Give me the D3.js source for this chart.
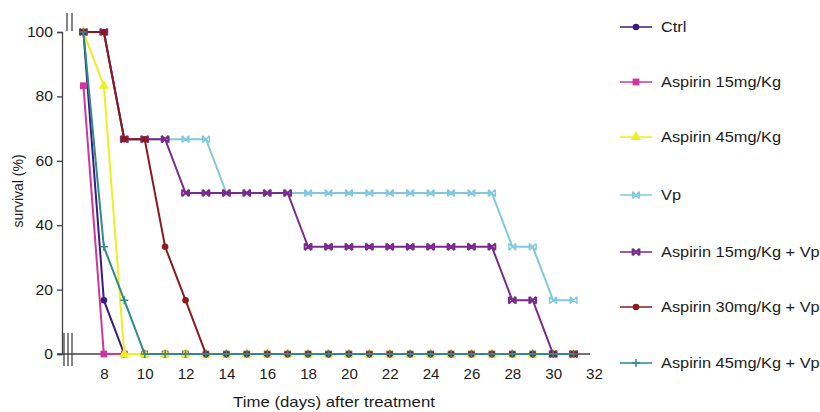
<!DOCTYPE html>
<html>
<head>
<meta charset="utf-8">
<script src="https://cdn.jsdelivr.net/npm/d3@7"></script>
<style>
  body { margin: 0; background: #fff; }
  svg text { font-family: "Liberation Sans", Arial, sans-serif; fill: #1c1c1c; }
</style>
</head>
<body>
<svg id="chart"></svg>
<script>
// data (survival %, one value per day from day 7 to 31)
const days = [7,8,9,10,11,12,13,14,15,16,17,18,19,20,21,22,23,24,25,26,27,28,29,30,31];
const ctrl     = [100,16.7,0,0,0,0,0,0,0,0,0,0,0,0,0,0,0,0,0,0,0,0,0,0,0];
const asp15    = [83.3,0,0,0,0,0,0,0,0,0,0,0,0,0,0,0,0,0,0,0,0,0,0,0,0];
const asp45    = [100,83.3,0,0,0,0,0,0,0,0,0,0,0,0,0,0,0,0,0,0,0,0,0,0,0];
const vp       = [100,100,66.7,66.7,66.7,66.7,66.7,50,50,50,50,50,50,50,50,50,50,50,50,50,50,33.3,33.3,16.7,16.7];
const asp15vp  = [100,100,66.7,66.7,66.7,50,50,50,50,50,50,33.3,33.3,33.3,33.3,33.3,33.3,33.3,33.3,33.3,33.3,16.7,16.7,0,0];
const asp30vp  = [100,100,66.7,66.7,33.3,16.7,0,0,0,0,0,0,0,0,0,0,0,0,0,0,0,0,0,0,0];
const asp45vp  = [100,33.3,16.7,0,0,0,0,0,0,0,0,0,0,0,0,0,0,0,0,0,0,0,0,0,0];

const seriesNames = ["Ctrl", "Aspirin 15mg/Kg", "Aspirin 45mg/Kg", "Vp",
  "Aspirin 15mg/Kg + Vp", "Aspirin 30mg/Kg + Vp", "Aspirin 45mg/Kg + Vp"];
const seriesValues = [ctrl, asp15, asp45, vp, asp15vp, asp30vp, asp45vp];
const xTicks = [8,10,12,14,16,18,20,22,24,26,28,30,32];
const yTicks = [0,20,40,60,80,100];

// styling
const colors = ["#3a1d7e", "#d1359d", "#eeee22", "#80c9dc", "#7a2a8c", "#8b1b1b", "#2f8a8c"];
const markers = ["circle", "square", "triangle", "bowtie", "times", "circle", "plus"];

const width = 820, height = 412;
const svg = d3.select("#chart").attr("width", width).attr("height", height);

const x = d3.scaleLinear().domain([6, 32]).range([63, 594]);
const y = d3.scaleLinear().domain([0, 100]).range([354, 32]);
const axisX0 = 62;

// y axis
const gy = svg.append("g")
  .attr("transform", `translate(${axisX0},0)`)
  .call(d3.axisLeft(y).tickValues(yTicks).tickSize(5).tickPadding(3));
gy.select(".domain").attr("stroke", "#444").attr("stroke-width", 1.3);
gy.selectAll(".tick line").attr("stroke", "#444").attr("stroke-width", 1.3);
gy.selectAll(".tick text").style("font-size", "14px").attr("fill", "#1c1c1c")
  .attr("transform", "scale(1.12,1)");

// x axis (line at 0, labels only)
const gx = svg.append("g")
  .attr("transform", `translate(0,${y(0)})`)
  .call(d3.axisBottom(x).tickValues(xTicks).tickSize(0).tickPadding(15));
gx.select(".domain").attr("d", `M${axisX0 - 5},0H590`).attr("stroke", "#444").attr("stroke-width", 1.5);
gx.selectAll(".tick text").style("font-size", "14px").attr("fill", "#1c1c1c")
  .attr("transform", "scale(1.08,1)");

// axis break marks
const breakG = svg.append("g").attr("stroke", "#444").attr("stroke-width", 1.3);
[67, 72].forEach(bx => breakG.append("line").attr("x1", bx).attr("x2", bx).attr("y1", 13).attr("y2", 31));
[64, 68, 72].forEach(bx => breakG.append("line").attr("x1", bx).attr("x2", bx).attr("y1", 333).attr("y2", 366));

// titles
svg.append("text")
  .attr("transform", "translate(334,407) scale(1.2,1)")
  .style("text-anchor", "middle").style("font-size", "14px")
  .text("Time (days)  after treatment");
svg.append("text")
  .attr("transform", "translate(23,191) rotate(-90)")
  .style("text-anchor", "middle").style("font-size", "14px")
  .text("survival (%)");

function drawMarker(g, type, color, cx, cy) {
  const s = 3.4;
  if (type === "circle") {
    g.append("circle").attr("cx", cx).attr("cy", cy).attr("r", 3.3).attr("fill", color);
  } else if (type === "square") {
    g.append("rect").attr("x", cx - s).attr("y", cy - s).attr("width", 2 * s).attr("height", 2 * s).attr("fill", color);
  } else if (type === "triangle") {
    g.append("path").attr("d", d3.symbol(d3.symbolTriangle, 45)()).attr("transform", `translate(${cx},${cy})`).attr("fill", color);
  } else if (type === "plus") {
    g.append("path").attr("d", `M${cx - 4},${cy}H${cx + 4}M${cx},${cy - 4}V${cy + 4}`).attr("stroke", color).attr("stroke-width", 1.5);
  } else if (type === "times") {
    g.append("path").attr("d", `M${cx - s},${cy - s}L${cx + s},${cy + s}M${cx - s},${cy + s}L${cx + s},${cy - s}M${cx - s},${cy - s}V${cy + s}M${cx + s},${cy - s}V${cy + s}`)
      .attr("stroke", color).attr("stroke-width", 2);
  } else if (type === "bowtie") {
    g.append("path").attr("d", `M${cx - s},${cy - s}L${cx + s},${cy + s}M${cx - s},${cy + s}L${cx + s},${cy - s}M${cx - s},${cy - s}V${cy + s}M${cx + s},${cy - s}V${cy + s}`)
      .attr("stroke", color).attr("stroke-width", 1.4);
  }
}

const line = d3.line().x((d, i) => x(days[i])).y(d => y(d));

seriesValues.forEach((vals, k) => {
  const g = svg.append("g").attr("class", "series");
  g.append("path")
    .datum(vals)
    .attr("d", line)
    .attr("fill", "none")
    .attr("stroke", colors[k])
    .attr("stroke-width", 2);
  vals.forEach((v, i) => drawMarker(g, markers[k], colors[k], x(days[i]), y(v)));
});

// legend
const legendY = [27, 82, 137, 195, 252, 307, 363];
seriesNames.forEach((name, k) => {
  const g = svg.append("g").attr("transform", `translate(0,${legendY[k]})`);
  g.append("line").attr("x1", 620).attr("x2", 652).attr("y1", 0).attr("y2", 0)
    .attr("stroke", colors[k]).attr("stroke-width", 1.5);
  drawMarker(g, markers[k], colors[k], 636, 0);
  g.append("text").attr("transform", "translate(661,5) scale(1.17,1)")
    .style("font-size", "14px").text(name);
});
</script>
</body>
</html>
